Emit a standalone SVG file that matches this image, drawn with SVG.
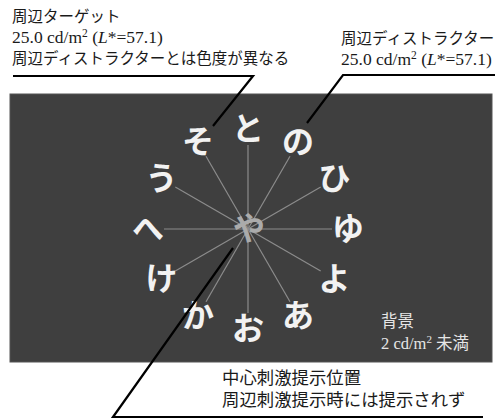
<svg xmlns="http://www.w3.org/2000/svg" width="495" height="419" viewBox="0 0 495 419">
<style>
.lbl{font-family:"Liberation Serif","Noto Sans CJK JP",serif;fill:#1a1a1a;font-size:15.5px}
.lat{font-family:"Liberation Serif",serif;fill:#1a1a1a;font-size:17.5px}
.lblb{font-family:"Liberation Serif","Noto Sans CJK JP",serif;fill:#1a1a1a;font-size:17.4px}
.bg{font-family:"Liberation Serif","Noto Sans CJK JP",serif;fill:#e6e6e6;font-size:16.5px}
.ch{font-family:"Noto Sans CJK JP",sans-serif;font-weight:bold;font-size:32px;fill:#f2f2f2;text-anchor:middle}
.ctr{fill:#ababab}
.spoke{stroke:#8c8c8c;stroke-width:1.2}
.lead{stroke:#000;stroke-width:2.2;fill:none}
</style>
<rect id="background" x="10" y="94" width="482" height="268" fill="#3f3f3f" stroke="#555" stroke-width="1"/>
<g id="spokes">
<line class="spoke" x1="248" y1="145" x2="248" y2="313"/>
<line class="spoke" x1="290" y1="156.3" x2="206" y2="301.7"/>
<line class="spoke" x1="320.7" y1="187" x2="175.3" y2="271"/>
<line class="spoke" x1="332" y1="229" x2="164" y2="229"/>
<line class="spoke" x1="320.7" y1="271" x2="175.3" y2="187"/>
<line class="spoke" x1="290" y1="301.7" x2="206" y2="156.3"/>
</g>
<g id="chars">
<text class="ch" x="248" y="140">と</text>
<text class="ch" x="298" y="153.4">の</text>
<text class="ch" x="334.6" y="190">ひ</text>
<text class="ch" x="348" y="240">ゆ</text>
<text class="ch" x="334.6" y="290">よ</text>
<text class="ch" x="298" y="326.6">あ</text>
<text class="ch" x="248" y="340">お</text>
<text class="ch" x="198" y="326.6">か</text>
<text class="ch" x="161.4" y="290">け</text>
<text class="ch" x="148" y="240">へ</text>
<text class="ch" x="161.4" y="190">う</text>
<text class="ch" x="198" y="153.4">そ</text>
</g>
<g id="center"><text class="ch ctr" x="249" y="240">や</text></g>
<g id="bg-label">
<text class="bg" x="381" y="327">背景</text>
<text class="bg" x="381" y="349">2 cd/m<tspan font-size="11" dy="-6">2</tspan><tspan dy="6"> 未満</tspan></text>
</g>
<g id="label-target">
<text class="lbl" x="12" y="22">周辺ターゲット</text>
<text class="lat" x="12" y="43">25.0 cd/m<tspan font-size="11.5" dy="-6.5">2</tspan><tspan dy="6.5"> (</tspan><tspan font-style="italic">L</tspan>*=57.1)</text>
<text class="lbl" x="12" y="64">周辺ディストラクターとは色度が異なる</text>
</g>
<g id="label-distractor">
<text class="lbl" x="341" y="44">周辺ディストラクター</text>
<text class="lat" x="341" y="65">25.0 cd/m<tspan font-size="11.5" dy="-6.5">2</tspan><tspan dy="6.5"> (</tspan><tspan font-style="italic">L</tspan>*=57.1)</text>
</g>
<g id="label-center">
<text class="lblb" x="222" y="384">中心刺激提示位置</text>
<text class="lblb" x="222" y="406">周辺刺激提示時には提示されず</text>
</g>
<g id="connectors">
<polyline class="lead" points="13,76 253,76 213,126"/>
<polyline class="lead" points="495,75 343,75 307,123"/>
<polyline class="lead" points="233,248 113,417 483,417"/>
</g>
</svg>
